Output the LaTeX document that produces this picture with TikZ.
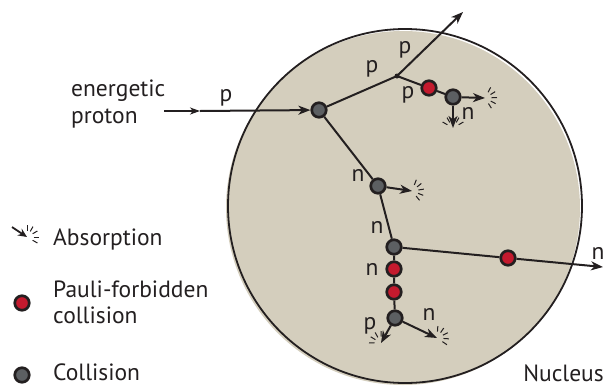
\documentclass[tikz,border=0pt]{standalone}
\usepackage{fontspec}
\setmainfont{PT Sans}
\usetikzlibrary{arrows.meta}
\definecolor{nucfill}{RGB}{212,206,189}
\definecolor{ink}{RGB}{35,31,32}
\definecolor{collgray}{RGB}{92,95,98}
\definecolor{paulired}{RGB}{196,26,46}
\pgfdeclarelayer{nuc}
\pgfdeclarelayer{tracks}
\pgfsetlayers{nuc,tracks,main}
\begin{document}
\begin{tikzpicture}[x=1pt,y=-1pt,
  coll/.style={circle,draw=ink,line width=2.7pt,fill=collgray,minimum size=14.5pt,inner sep=0pt},
  pauli/.style={coll,fill=paulired},
  track/.style={draw=ink,line width=2pt},
  arr/.style={track,-{Stealth[length=12pt,width=9pt,inset=3.5pt]}},
  lab/.style={font=\fontsize{23.5}{26}\selectfont,text=ink,inner sep=0pt},
  absorb/.pic={\foreach \a in {-60,-30,0,30,60}{\draw[ink,line width=1pt] (\a:6.5) -- (\a:12);}}
]
\useasboundingbox (0,0) rectangle (606,386);
\begin{pgfonlayer}{nuc}
  \fill[nucfill] (403,208) circle (177);
  \draw[ink,line width=1.8pt] (405,206) circle (177);
\end{pgfonlayer}

% nodes
\node[coll] (A) at (319,110) {};
\coordinate (J) at (397,76);
\coordinate (Jout) at (463,12);
\node[pauli] (R1) at (429,88) {};
\node[coll] (G1) at (453,97) {};
\coordinate (G1r) at (485,98);
\coordinate (G1d) at (453,128);
\node[coll] (G2) at (378,186) {};
\coordinate (G2r) at (412,191);
\node[coll] (G3) at (394,247) {};
\node[pauli] (R2) at (508,258) {};
\coordinate (R2out) at (603,267);
\node[pauli] (R3) at (394,269) {};
\node[pauli] (R4) at (394,292) {};
\node[coll] (G4) at (395,318) {};
\coordinate (G4l) at (381,343);
\coordinate (G4r) at (437,338);
\coordinate (in) at (164,111);
\coordinate (inmid) at (200,111);

\begin{pgfonlayer}{tracks}
  \draw[track,line width=2.7pt,-{Stealth[length=10pt,width=7pt,inset=3pt]}] (in) -- (inmid);
  \draw[arr] (inmid) -- (A);
  \draw[track] (A) -- (J);
  \draw[arr] (J) -- (Jout);
  \draw[track] (J) -- (R1) -- (G1);
  \draw[arr] (G1) -- (G1r);
  \draw[arr] (G1) -- (G1d);
  \draw[track] (A) -- (G2);
  \draw[arr] (G2) -- (G2r);
  \draw[track] (G2) -- (G3);
  \draw[track] (G3) -- (R2);
  \draw[arr] (R2) -- (R2out);
  \draw[track] (G3) -- (R3) -- (R4) -- (G4);
  \draw[arr] (G4) -- (G4l);
  \draw[arr] (G4) -- (G4r);
\end{pgfonlayer}
\fill[ink] (J) circle (2.5);

% absorption marks
\pic[rotate=2] at (G1r) {absorb};
\pic[rotate=90] at (G1d) {absorb};
\pic[rotate=9] at (G2r) {absorb};
\pic[rotate=119] at (G4l) {absorb};
\pic[rotate=26] at (G4r) {absorb};

% track labels
\node[lab] (lp0) at (226,98) {p};
\node[lab] (lp1) at (372,69) {p};
\node[lab] (lp2) at (405,50) {p};
\node[lab] (lp3) at (408,95) {p};
\node[lab] (ln1) at (468,113) {n};
\node[lab] (ln2) at (358,175) {n};
\node[lab] (ln3) at (377,227) {n};
\node[lab] (ln4) at (372,269) {n};
\node[lab] (lp4) at (370,326) {p};
\node[lab] (ln5) at (429,314) {n};
\node[lab] (ln6) at (598,253) {n};

% text
\node[lab,anchor=base west] (t1) at (71,96) {energetic};
\node[lab,anchor=base west] (t2) at (71,123) {proton};
\node[lab,anchor=base east] (nuc) at (604,381) {Nucleus};

% legend
\coordinate (la1) at (12,227);
\coordinate (la2) at (27,237);
\draw[arr,line width=1.8pt,-{Stealth[length=9pt,width=8pt,inset=3pt]}] (la1) -- (la2);
\pic[rotate=30] at (la2) {absorb};
\node[lab,anchor=base west] (lt1) at (53,245) {Absorption};
\node[pauli] (lr) at (22,303) {};
\node[lab,anchor=base west] (lt2) at (53,297) {Pauli-forbidden};
\node[lab,anchor=base west] (lt3) at (53,323) {collision};
\node[coll] (lg) at (22,375) {};
\node[lab,anchor=base west] (lt4) at (53,380) {Collision};
\end{tikzpicture}
\end{document}
